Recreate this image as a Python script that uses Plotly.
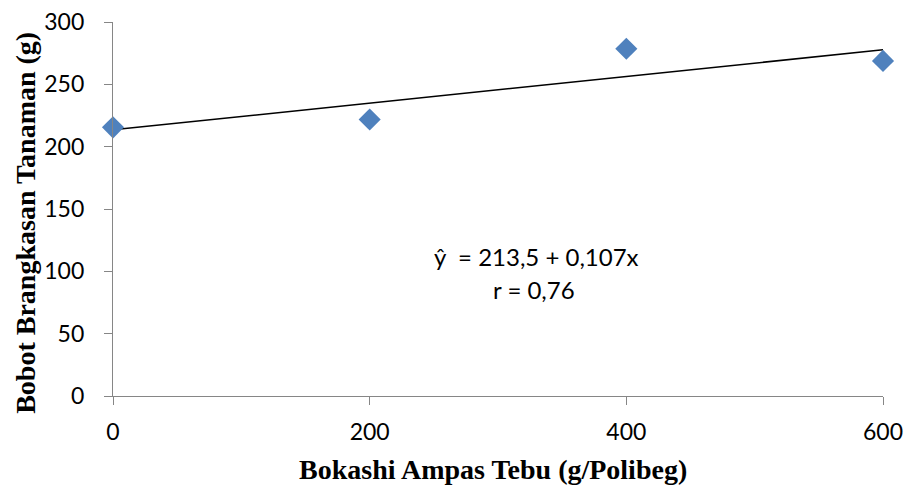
import plotly.graph_objects as go

# Data
dose = [0, 200, 400, 600]
weight = [215.5, 221.8, 278.5, 268.8]
trend_x = [0, 600]
trend_y = [213.5, 277.7]
x_ticks = [0, 200, 400, 600]
y_ticks = [0, 50, 100, 150, 200, 250, 300]
eq_text = "ŷ  = 213,5 + 0,107x"
r_text = "r = 0,76"
x_title = "<b>Bokashi Ampas Tebu (g/Polibeg)</b>"
y_title = "<b>Bobot Brangkasan Tanaman (g)</b>"

tick_font = dict(family="Lato", size=23, color="#000000")
ann_font = dict(family="Lato", size=24, color="#000000")
title_font = dict(family="Liberation Serif", size=28, color="#000000")

fig = go.Figure()
fig.add_trace(go.Scatter(
    x=trend_x, y=trend_y, mode="lines",
    line=dict(color="#000000", width=1.5), showlegend=False, hoverinfo="skip"))
fig.add_trace(go.Scatter(
    x=dose, y=weight, mode="markers",
    marker=dict(symbol="diamond", size=17, color="#4F81BD", line=dict(width=0)),
    showlegend=False, cliponaxis=False))

fig.add_annotation(x=330, y=112, xref="x", yref="y", text=eq_text, showarrow=False,
                   font=ann_font, xanchor="center", yanchor="middle")
fig.add_annotation(x=328, y=85.5, xref="x", yref="y", text=r_text, showarrow=False,
                   font=ann_font, xanchor="center", yanchor="middle")

fig.add_annotation(x=0.4935, y=-0.196, xref="paper", yref="paper", text=x_title,
                   showarrow=False, font=title_font, xanchor="center", yanchor="middle")
fig.add_annotation(x=-0.113, y=0.463, xref="paper", yref="paper", text=y_title,
                   showarrow=False, font=title_font, xanchor="center", yanchor="middle",
                   textangle=-90)

fig.update_layout(
    width=907, height=486,
    margin=dict(l=113, r=24, t=22, b=89.5, autoexpand=False),
    paper_bgcolor="white", plot_bgcolor="white",
)
fig.update_xaxes(
    range=[0, 600], tickvals=x_ticks, ticks="outside", ticklen=8, tickcolor="#868686",
    showline=True, linecolor="#868686", linewidth=1.3, showgrid=False, zeroline=False,
    tickfont=tick_font, automargin=False, ticklabelstandoff=7,
)
fig.update_yaxes(
    range=[0, 300], tickvals=y_ticks, ticks="outside", ticklen=8, tickcolor="#868686",
    showline=True, linecolor="#868686", linewidth=1.3, showgrid=False, zeroline=False,
    tickfont=tick_font, automargin=False, ticklabelstandoff=15,
)

fig.write_html("out.html")
